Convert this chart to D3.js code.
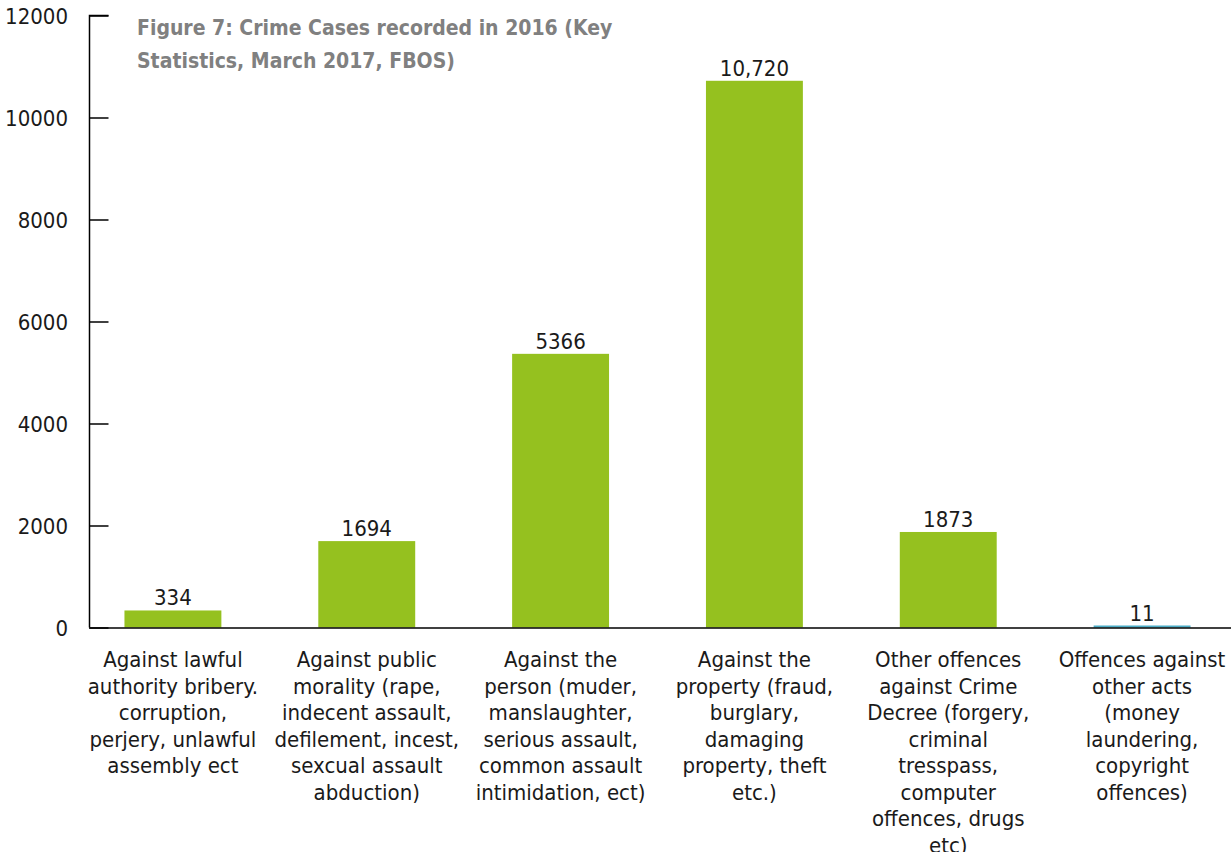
<!DOCTYPE html>
<html>
<head>
<meta charset="utf-8">
<script src="https://cdn.jsdelivr.net/npm/d3@7"></script>
<style>
  body { margin: 0; background: #fff; }
  text { font-family: "Liberation Sans Narrow", "DejaVu Sans Condensed", "Roboto", sans-serif; }
</style>
</head>
<body>
<div id="chart"></div>
<script>
// chart data
const categories = [
  ['Against lawful', 'authority bribery.', 'corruption,', 'perjery, unlawful', 'assembly ect'],
  ['Against public', 'morality (rape,', 'indecent assault,', 'defilement, incest,', 'sexcual assault', 'abduction)'],
  ['Against the', 'person (muder,', 'manslaughter,', 'serious assault,', 'common assault', 'intimidation, ect)'],
  ['Against the', 'property (fraud,', 'burglary,', 'damaging', 'property, theft', 'etc.)'],
  ['Other offences', 'against Crime', 'Decree (forgery,', 'criminal', 'tresspass,', 'computer', 'offences, drugs', 'etc)'],
  ['Offences against', 'other acts', '(money', 'laundering,', 'copyright', 'offences)']
];
const values = [334, 1694, 5366, 10720, 1873, 11];
const valueLabels = ['334', '1694', '5366', '10,720', '1873', '11'];
const yTicks = [0, 2000, 4000, 6000, 8000, 10000, 12000];
const title = ['Figure 7: Crime Cases recorded in 2016 (Key', 'Statistics, March 2017, FBOS)'];

const width = 1231;
const height = 852;

const svg = d3.select('#chart')
  .append('svg')
  .attr('width', width)
  .attr('height', height);

const x = d3.scaleBand()
  .domain(d3.range(values.length))
  .range([76, 1239])
  .paddingInner(0.5)
  .paddingOuter(0.25);

const y = d3.scaleLinear()
  .domain([0, 12000])
  .range([627.5, 15.5]);

// bars
svg.selectAll('rect.bar')
  .data(values)
  .enter()
  .append('rect')
  .attr('class', 'bar')
  .attr('x', (d, i) => x(i))
  .attr('y', d => Math.min(y(d), y(0) - 2))
  .attr('width', x.bandwidth())
  .attr('height', d => Math.max(y(0) - y(d), 2))
  .attr('fill', (d, i) => i === values.length - 1 ? '#4bacc6' : '#95c11f');

// value labels
svg.selectAll('text.val')
  .data(values)
  .enter()
  .append('text')
  .attr('class', 'val')
  .attr('x', (d, i) => x(i) + x.bandwidth() / 2)
  .attr('y', d => Math.min(y(d), y(0) - 2) - 5)
  .attr('text-anchor', 'middle')
  .attr('font-size', 22)
  .attr('fill', '#1a1a1a')
  .text((d, i) => valueLabels[i]);

// y axis, ticks pointing inward
const yAxis = svg.append('g')
  .attr('transform', 'translate(89.5,0)')
  .call(d3.axisRight(y).tickValues(yTicks).tickSize(19).tickFormat(''));
yAxis.select('.domain').attr('stroke', '#000').attr('stroke-width', 1.5).attr('d', `M19,${y(12000)}H0V${y(0)}`);
yAxis.selectAll('.tick line').attr('stroke', '#000').attr('stroke-width', 1.5);

svg.selectAll('text.ytick')
  .data(yTicks)
  .enter()
  .append('text')
  .attr('class', 'ytick')
  .attr('x', 68)
  .attr('y', d => y(d) + 8)
  .attr('text-anchor', 'end')
  .attr('font-size', 22)
  .attr('fill', '#1a1a1a')
  .text(d => d);

// baseline
svg.append('line')
  .attr('x1', 89)
  .attr('x2', width)
  .attr('y1', y(0) + 0.5)
  .attr('y2', y(0) + 0.5)
  .attr('stroke', '#000')
  .attr('stroke-width', 1.5);

// category labels
const cat = svg.selectAll('text.cat')
  .data(categories)
  .enter()
  .append('text')
  .attr('class', 'cat')
  .attr('text-anchor', 'middle')
  .attr('font-size', 22)
  .attr('fill', '#1a1a1a');
cat.selectAll('tspan')
  .data((d, i) => d.map(line => ({ line, i })))
  .enter()
  .append('tspan')
  .attr('x', d => x(d.i) + x.bandwidth() / 2)
  .attr('y', (d, j) => 667 + j * 26.5)
  .text(d => d.line);

// title
svg.selectAll('text.title')
  .data(title)
  .enter()
  .append('text')
  .attr('class', 'title')
  .attr('x', 137)
  .attr('y', (d, i) => 35 + i * 33)
  .attr('font-size', 21)
  .attr('font-weight', 'bold')
  .attr('fill', '#808080')
  .text(d => d);
</script>
</body>
</html>
